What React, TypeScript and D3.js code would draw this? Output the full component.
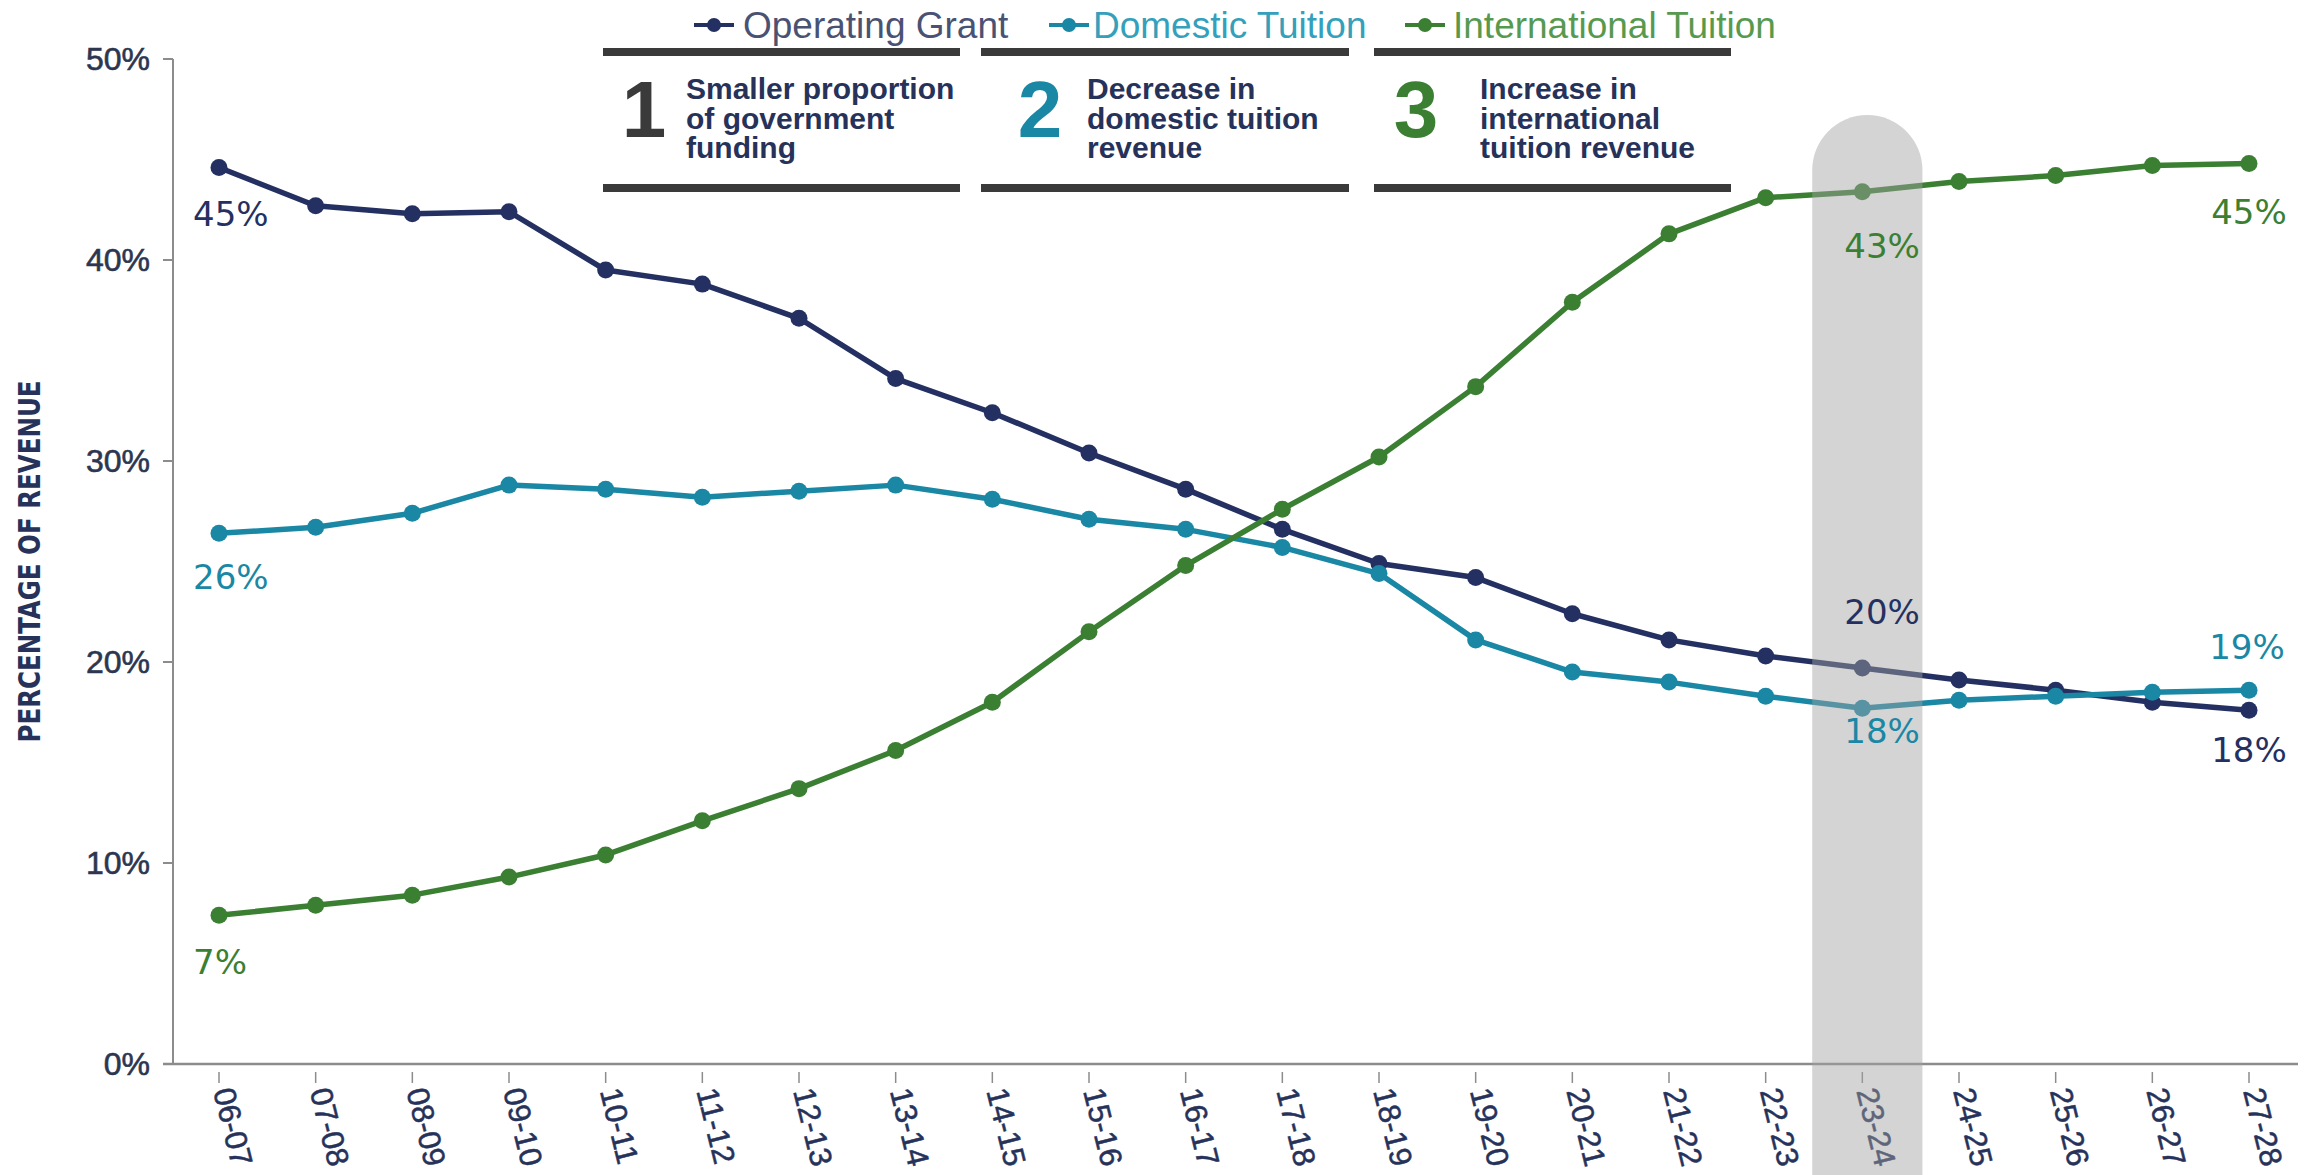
import React from 'react';
import * as d3 from 'd3';

const years = ['06-07', '07-08', '08-09', '09-10', '10-11', '11-12', '12-13', '13-14', '14-15', '15-16', '16-17',
    '17-18', '18-19', '19-20', '20-21', '21-22', '22-23', '23-24', '24-25', '25-26', '26-27', '27-28'];

const operatingGrant = [44.6, 42.7, 42.3, 42.4, 39.5, 38.8, 37.1, 34.1, 32.4, 30.4, 28.6,
    26.6, 24.9, 24.2, 22.4, 21.1, 20.3, 19.7, 19.1, 18.6, 18.0, 17.6];
const domesticTuition = [26.4, 26.7, 27.4, 28.8, 28.6, 28.2, 28.5, 28.8, 28.1, 27.1, 26.6,
    25.7, 24.4, 21.1, 19.5, 19.0, 18.3, 17.7, 18.1, 18.3, 18.5, 18.6];
const internationalTuition = [7.4, 7.9, 8.4, 9.3, 10.4, 12.1, 13.7, 15.6, 18.0, 21.5, 24.8,
    27.6, 30.2, 33.7, 37.9, 41.3, 43.1, 43.4, 43.9, 44.2, 44.7, 44.8];

const seriesNames = ['Operating Grant', 'Domestic Tuition', 'International Tuition'];
const seriesColors = ['#243061', '#1a87a5', '#3b7f33'];
const legendTextColors = ['#4a5273', '#34a0bb', '#579a4f'];

const yTicks = [0, 10, 20, 30, 40, 50];
const highlightYear = '23-24';

const panelNumbers = ['1', '2', '3'];
const panelColors = ['#3a3a3a', '#1a87a5', '#3b7f33'];
const panelLines = [
    ['Smaller proportion', 'of government', 'funding'],
    ['Decrease in', 'domestic tuition', 'revenue'],
    ['Increase in', 'international', 'tuition revenue']
];

// which point gets a value label, and where it sits relative to the point
const valueLabels = [
    { s: 0, year: '06-07', dx: -26, dy: 58, anchor: 'start' },
    { s: 1, year: '06-07', dx: -26, dy: 56, anchor: 'start' },
    { s: 2, year: '06-07', dx: -26, dy: 59, anchor: 'start' },
    { s: 2, year: '23-24', dx: -18, dy: 66, anchor: 'start' },
    { s: 0, year: '23-24', dx: -18, dy: -44, anchor: 'start' },
    { s: 1, year: '23-24', dx: -18, dy: 35, anchor: 'start' },
    { s: 2, year: '27-28', dx: 0, dy: 60, anchor: 'middle' },
    { s: 1, year: '27-28', dx: -2, dy: -31, anchor: 'middle' },
    { s: 0, year: '27-28', dx: 0, dy: 52, anchor: 'middle' }
];

const W = 2316;
const H = 1175;
const narrow = "'Liberation Sans Narrow', 'DejaVu Sans Condensed', 'Liberation Sans', sans-serif";
const sans = "'Liberation Sans', Arial, sans-serif";
const geo = "'DejaVu Sans', sans-serif";

export default function App() {
    const series = [operatingGrant, domesticTuition, internationalTuition];

    const x = d3.scalePoint<string>().domain(years).range([219, 2249]);
    const y = d3.scaleLinear().domain([0, 50]).range([1064, 59]);
    const step = x.step();

    const line = d3.line<number>()
        .x((_, i) => x(years[i]) as number)
        .y(d => y(d));

    const hx = (x(highlightYear) as number) + 5;
    const hw = step * 1.14;

    const legendMarkers = [714, 1069, 1425];
    const legendText = [743, 1093, 1453];

    const panelSpans = [[603, 960], [981, 1349], [1374, 1731]];
    const panelNumX = [644, 1040, 1416];
    const panelTextX = [686, 1087, 1480];

    return (
        <svg width={W} height={H} style={{ position: 'absolute', left: 0, top: 0, display: 'block', background: '#fff' }}>
            {/* y axis */}
            <line x1={173} x2={173} y1={y(50)} y2={y(0)} stroke="#8c8c8c" strokeWidth={2} />
            {yTicks.map(t => (
                <g key={t}>
                    <line x1={163} x2={173} y1={y(t)} y2={y(t)} stroke="#8c8c8c" strokeWidth={2} />
                    <text x={150} y={y(t) + 11} textAnchor="end" fontFamily={sans} fontSize={32} fill="#2d3650"
                        stroke="#2d3650" strokeWidth={0.6}>{t}%</text>
                </g>
            ))}
            <text transform={`translate(40, ${y(25)}) rotate(-90)`} textAnchor="middle" fontFamily={narrow}
                fontWeight="bold" fontSize={30} fill="#26325a" textLength={362} lengthAdjust="spacingAndGlyphs">
                PERCENTAGE OF REVENUE
            </text>

            {/* x axis */}
            <line x1={163} x2={2298} y1={y(0)} y2={y(0)} stroke="#8c8c8c" strokeWidth={2.5} />
            {years.map(yr => (
                <g key={yr}>
                    <line x1={x(yr)} x2={x(yr)} y1={1072} y2={1083} stroke="#8c8c8c" strokeWidth={1.5} />
                    <text transform={`translate(${(x(yr) as number) - 6}, 1091) rotate(76)`} fontFamily={sans}
                        fontSize={31} fill="#26325a" stroke="#26325a" strokeWidth={0.5}>{yr}</text>
                </g>
            ))}

            {/* series */}
            {series.map((vals, s) => (
                <g key={seriesNames[s]}>
                    <path d={line(vals) || ''} fill="none" stroke={seriesColors[s]} strokeWidth={5.5} strokeLinejoin="round" />
                    {vals.map((v, i) => (
                        <circle key={i} cx={x(years[i])} cy={y(v)} r={8.5} fill={seriesColors[s]} />
                    ))}
                </g>
            ))}

            {/* highlighted year */}
            <rect x={hx - hw / 2} y={115} width={hw} height={H} rx={hw / 2} fill="#a2a2a2" opacity={0.46} />

            {/* value labels */}
            {valueLabels.map((l, k) => {
                const v = series[l.s][years.indexOf(l.year)];
                return (
                    <text key={k} x={(x(l.year) as number) + l.dx} y={y(v) + l.dy} textAnchor={l.anchor}
                        fontFamily={geo} fontSize={34} fill={seriesColors[l.s]}>{Math.round(v)}%</text>
                );
            })}

            {/* legend */}
            {seriesNames.map((n, s) => (
                <g key={n}>
                    <line x1={legendMarkers[s] - 20} x2={legendMarkers[s] + 20} y1={25} y2={25} stroke={seriesColors[s]} strokeWidth={4} />
                    <circle cx={legendMarkers[s]} cy={25} r={7} fill={seriesColors[s]} />
                    <text x={legendText[s]} y={38} fontFamily={sans} fontSize={37} fill={legendTextColors[s]}>{n}</text>
                </g>
            ))}

            {/* three callout panels */}
            {panelNumbers.map((num, p) => (
                <g key={num}>
                    <rect x={panelSpans[p][0]} y={48} width={panelSpans[p][1] - panelSpans[p][0]} height={8} fill="#3a3a3a" />
                    <rect x={panelSpans[p][0]} y={184} width={panelSpans[p][1] - panelSpans[p][0]} height={8} fill="#3a3a3a" />
                    <text x={panelNumX[p]} y={137} textAnchor="middle" fontFamily={sans} fontWeight="bold" fontSize={80}
                        fill={panelColors[p]}>{num}</text>
                    {panelLines[p].map((t, j) => (
                        <text key={j} x={panelTextX[p]} y={99 + j * 29.5} fontFamily={sans} fontWeight="bold"
                            fontSize={30} fill="#27325a">{t}</text>
                    ))}
                </g>
            ))}
        </svg>
    );
}
